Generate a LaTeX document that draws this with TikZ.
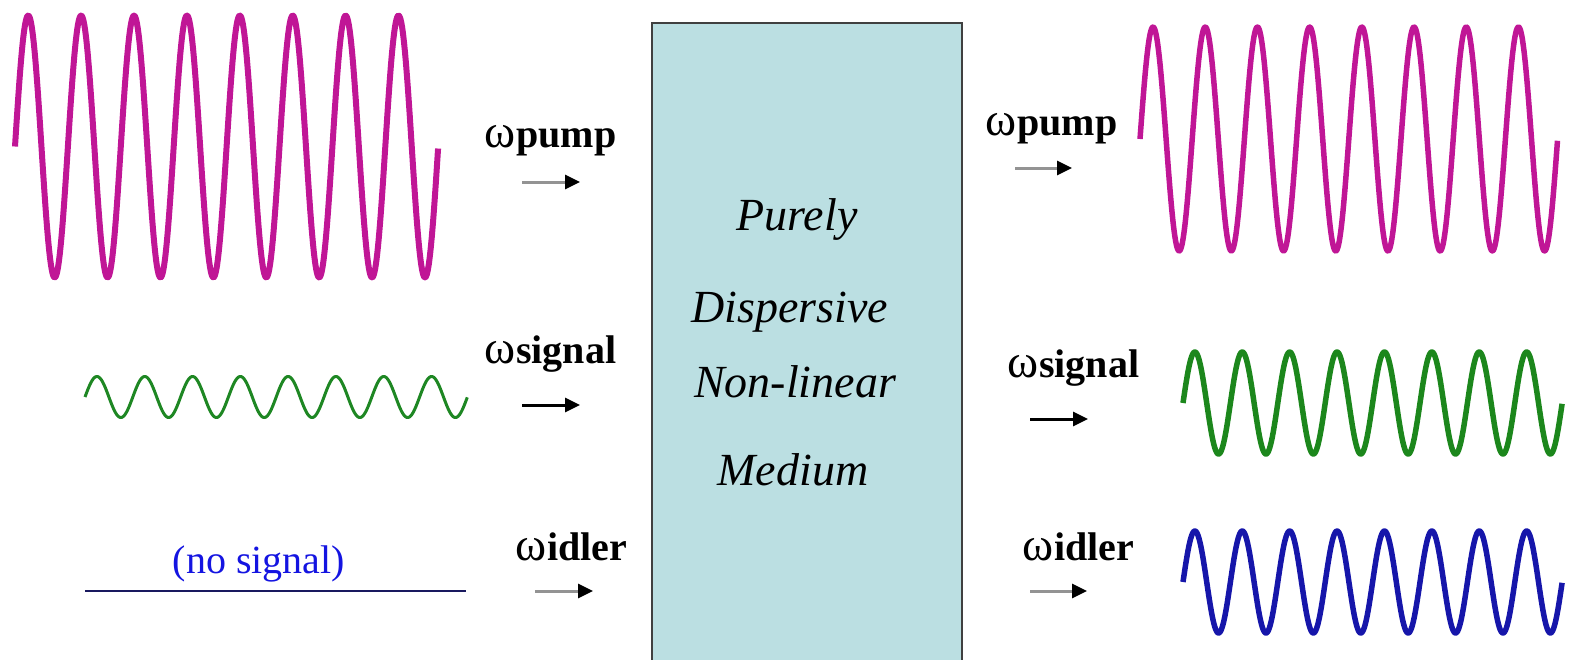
\documentclass[tikz,border=0pt]{standalone}
\usepackage{fontspec}
\setmainfont{Liberation Serif}
\usetikzlibrary{arrows.meta}
\definecolor{pumpc}{RGB}{192,22,150}
\definecolor{sigc}{RGB}{30,135,35}
\definecolor{sigc2}{RGB}{28,135,28}
\definecolor{idlc}{RGB}{22,22,170}
\definecolor{navyc}{RGB}{25,25,95}
\definecolor{boxc}{RGB}{187,223,226}
\definecolor{nosig}{RGB}{20,20,225}
\tikzset{
  lbl/.style={anchor=base west, inner sep=0pt, font=\fontsize{40}{44}\selectfont\bfseries},
  med/.style={anchor=base, inner sep=0pt, font=\fontsize{46}{50}\selectfont\itshape},
  grayarr/.style={draw=gray!85, line width=3pt, -{Triangle[length=15pt,width=14pt,color=black]}},
  blackarr/.style={draw=black, line width=3pt, -{Triangle[length=15pt,width=14pt,color=black]}},
}
\newcommand{\om}{\scalebox{1.18}{\mdseries ω}\kern1pt}
\begin{document}
\begin{tikzpicture}[x=1pt,y=-1pt]
\useasboundingbox (0,0) rectangle (1573,659);
% medium box
\node[draw=black!75, fill=boxc, line width=2pt, minimum width=310pt, minimum height=650pt, inner sep=0pt, anchor=north west] (box) at (651,22) {};
\node[med] (t1) at (797,230) {Purely};
\node[med] (t2) at (790,322) {Dispersive};
\node[med] (t3) at (795,397) {Non-linear};
\node[med] (t4) at (793,485) {Medium};
% left waves
\draw[pumpc, line width=6pt, line join=round] plot[domain=0:8, samples=600, variable=\t] ({15+\t*52.9},{146.5-131*sin(\t*360)});
\draw[sigc, line width=3pt, line join=round] plot[domain=0:8, samples=600, variable=\t] ({85+\t*47.8},{397-20.5*sin(\t*360)});
\coordinate (ns1) at (85,591); \coordinate (ns2) at (466,591);
\draw[navyc, line width=2pt] (ns1) -- (ns2);
\node[anchor=base, inner sep=0pt, text=nosig, font=\fontsize{40}{44}\selectfont] (nosignal) at (259,573) {(no signal)};
% right waves
\draw[pumpc, line width=5.5pt, line join=round] plot[domain=0:8, samples=600, variable=\t] ({1140+\t*52.2},{139-112*sin(\t*360)});
\draw[sigc2, line width=5.5pt, line join=round] plot[domain=0:8, samples=600, variable=\t] ({1183+\t*47.4},{403-51*sin(\t*360)});
\draw[idlc, line width=5.5pt, line join=round] plot[domain=0:8, samples=600, variable=\t] ({1183+\t*47.4},{582-51*sin(\t*360)});
% left labels
\node[lbl] (lp) at (484,147) {\om pump};
\node[lbl] (ls) at (484,363) {\om signal};
\node[lbl] (li) at (515,560) {\om idler};
\coordinate (lpa) at (522,182); \coordinate (lpb) at (580,182);
\coordinate (lsa) at (522,405); \coordinate (lsb) at (580,405);
\coordinate (lia) at (535,591); \coordinate (lib) at (593,591);
\draw[grayarr] (lpa) -- (lpb);
\draw[blackarr] (lsa) -- (lsb);
\draw[grayarr] (lia) -- (lib);
% right labels
\node[lbl] (rp) at (985,135) {\om pump};
\node[lbl] (rs) at (1007,377) {\om signal};
\node[lbl] (ri) at (1022,560) {\om idler};
\coordinate (rpa) at (1015,168); \coordinate (rpb) at (1072,168);
\coordinate (rsa) at (1030,419); \coordinate (rsb) at (1088,419);
\coordinate (ria) at (1030,591); \coordinate (rib) at (1087,591);
\draw[grayarr] (rpa) -- (rpb);
\draw[blackarr] (rsa) -- (rsb);
\draw[grayarr] (ria) -- (rib);
\end{tikzpicture}
\end{document}
